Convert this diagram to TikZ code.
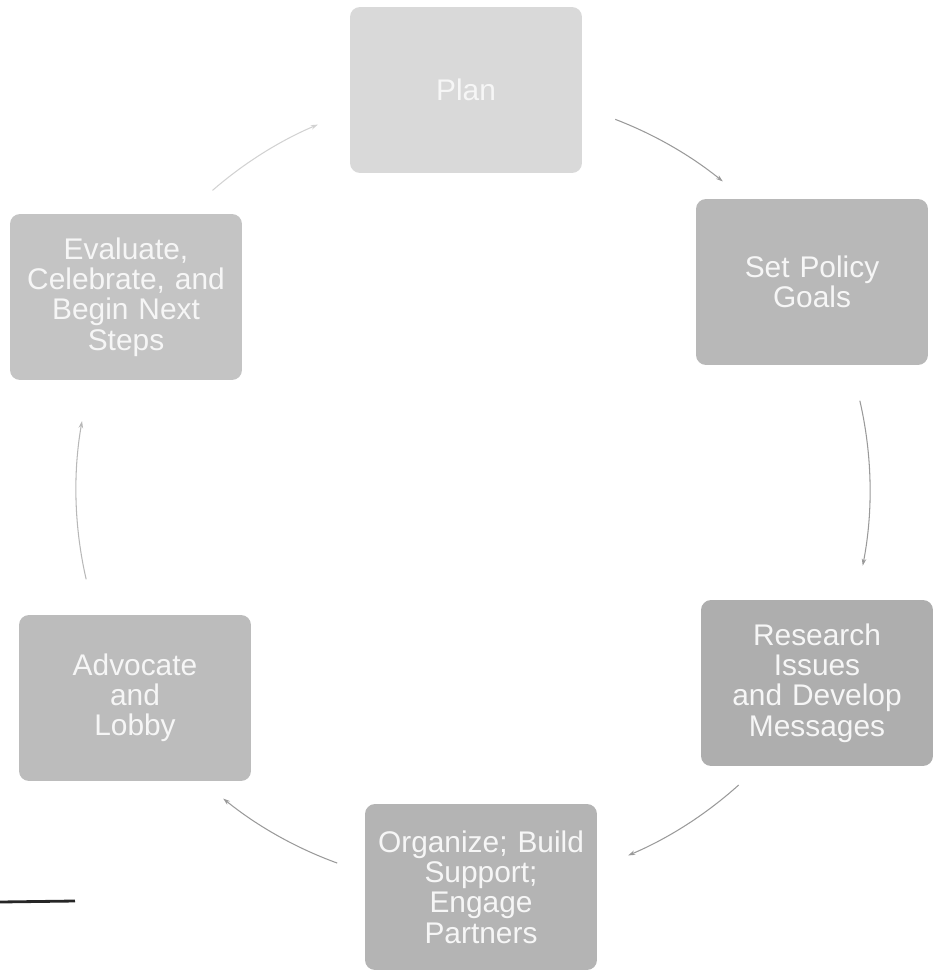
\documentclass[tikz,border=0pt]{standalone}
\usepackage{fontspec}
\setmainfont{Liberation Sans}
\usetikzlibrary{arrows.meta}
\definecolor{txt}{HTML}{F6F6F6}
\definecolor{arc}{HTML}{9A9A9A}
\tikzset{
  stepbox/.style={rounded corners=0.2cm, minimum width=4.64cm, minimum height=3.32cm,
    text width=4.4cm, align=center, text=txt, inner sep=0pt,
    font=\fontsize{17}{17.2}\selectfont},
  cyc/.style={draw=arc, line width=0.6pt, -{Stealth[length=4pt,width=2.6pt]}}
}
\begin{document}
\begin{tikzpicture}[x=0.02cm,y=0.02cm]
\useasboundingbox (0,0) rectangle (933,-972);
\coordinate (C) at (473,-490);
\node[stepbox, fill={rgb,255:red,217;green,217;blue,217}] (plan) at (466,-90) {Plan};
\node[stepbox, fill={rgb,255:red,184;green,184;blue,184}] (goals) at (812,-282) {Set Policy\\Goals};
\node[stepbox, fill={rgb,255:red,174;green,174;blue,174}] (research) at (817,-683) {Research\\Issues\\and Develop\\Messages};
\node[stepbox, fill={rgb,255:red,180;green,180;blue,180}] (organize) at (481,-887) {Organize; Build\\Support;\\Engage\\Partners};
\node[stepbox, fill={rgb,255:red,188;green,188;blue,188}] (advocate) at (135,-698) {Advocate\\and\\Lobby};
\node[stepbox, fill={rgb,255:red,196;green,196;blue,196}] (evaluate) at (126,-297) {Evaluate,\\Celebrate, and\\Begin Next\\Steps};
% cycle arcs
\coordinate (a1) at ([shift={(69:397)}]C);
\coordinate (a2) at ([shift={(13:397)}]C);
\coordinate (a3) at ([shift={(-48:397)}]C);
\coordinate (a4) at ([shift={(-110:397)}]C);
\coordinate (a5) at ([shift={(-167:397)}]C);
\coordinate (a6) at ([shift={(131:397)}]C);
\draw[cyc] (a1) arc[start angle=69, end angle=51, radius=7.94cm];
\draw[cyc] (a2) arc[start angle=13, end angle=-11, radius=7.94cm];
\draw[cyc] (a3) arc[start angle=-48, end angle=-67, radius=7.94cm];
\draw[cyc] (a4) arc[start angle=-110, end angle=-129, radius=7.94cm];
\draw[cyc, draw=arc!70] (a5) arc[start angle=-167, end angle=-190, radius=7.94cm];
\draw[cyc, draw=arc!45] (a6) arc[start angle=131, end angle=113, radius=7.94cm];
% short black rule at lower left
\coordinate (r1) at (0,-902);
\coordinate (r2) at (75,-901);
\draw[line width=1.6pt, black!85] (r1) -- (r2);
\end{tikzpicture}
\end{document}
